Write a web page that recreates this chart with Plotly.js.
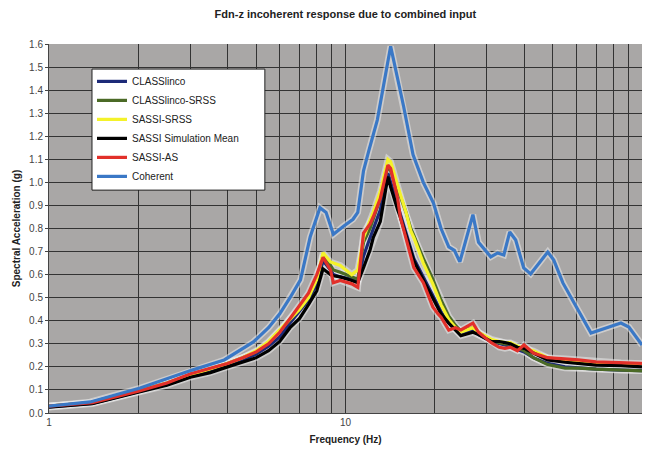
<!DOCTYPE html>
<html>
<head>
<meta charset="utf-8">
<script src="https://cdn.plot.ly/plotly-3.0.1.min.js"></script>
<style>
html,body{margin:0;padding:0;background:#fff;}
#chart{width:648px;height:456px;}
</style>
</head>
<body>
<div id="chart"></div>
<script>
// Frequencies (Hz) for the incoherent curves
var freq = [1, 1.4, 2, 2.5, 3, 3.5, 4, 4.5, 5, 5.5, 6, 6.5, 7, 7.5, 8, 8.4, 8.9, 9.1, 9.6, 10.5, 11, 11.5, 12.1, 12.4, 13.1, 13.9, 14.2, 15, 15.3, 16, 16.6, 17, 18.3, 19.7, 20.5, 21, 22.3, 23.5, 24.5, 26.9, 28.1, 31, 33, 34.5, 36, 38, 40, 43, 48, 55, 61, 70, 85, 100];

var classlinco = [0.026, 0.042, 0.092, 0.125, 0.16, 0.185, 0.21, 0.23, 0.255, 0.29, 0.33, 0.39, 0.44, 0.49, 0.56, 0.66, 0.62, 0.6, 0.59, 0.58, 0.57, 0.68, 0.76, 0.8, 0.88, 1.04, 1.0, 0.9, 0.86, 0.78, 0.71, 0.67, 0.59, 0.51, 0.47, 0.44, 0.39, 0.36, 0.34, 0.36, 0.34, 0.31, 0.3, 0.295, 0.29, 0.275, 0.265, 0.24, 0.215, 0.2, 0.196, 0.19, 0.186, 0.184];
var classlincoSRSS = [0.03, 0.045, 0.095, 0.13, 0.165, 0.19, 0.215, 0.24, 0.265, 0.305, 0.355, 0.405, 0.45, 0.5, 0.58, 0.685, 0.64, 0.62, 0.61, 0.59, 0.58, 0.74, 0.8, 0.84, 0.93, 1.07, 1.05, 0.96, 0.94, 0.87, 0.8, 0.77, 0.67, 0.58, 0.52, 0.49, 0.42, 0.38, 0.355, 0.37, 0.35, 0.315, 0.305, 0.3, 0.3, 0.285, 0.27, 0.24, 0.21, 0.195, 0.195, 0.19, 0.185, 0.183];
var sassiSRSS = [0.03, 0.045, 0.095, 0.13, 0.165, 0.19, 0.215, 0.24, 0.27, 0.31, 0.36, 0.41, 0.45, 0.5, 0.58, 0.695, 0.655, 0.65, 0.64, 0.6, 0.62, 0.76, 0.83, 0.87, 0.96, 1.1, 1.09, 0.98, 0.95, 0.87, 0.79, 0.76, 0.65, 0.56, 0.5, 0.47, 0.405, 0.37, 0.35, 0.37, 0.35, 0.32, 0.31, 0.305, 0.305, 0.29, 0.28, 0.27, 0.24, 0.225, 0.22, 0.215, 0.213, 0.213];
var sassiMean = [0.025, 0.04, 0.09, 0.12, 0.155, 0.175, 0.2, 0.22, 0.24, 0.27, 0.31, 0.37, 0.41, 0.47, 0.53, 0.625, 0.6, 0.595, 0.59, 0.575, 0.565, 0.63, 0.707, 0.76, 0.83, 1.025, 0.98, 0.88, 0.85, 0.77, 0.7, 0.66, 0.577, 0.5, 0.455, 0.43, 0.39, 0.36, 0.335, 0.35, 0.34, 0.31, 0.31, 0.305, 0.3, 0.285, 0.28, 0.26, 0.23, 0.22, 0.215, 0.208, 0.205, 0.2];
var sassiAS = [0.03, 0.045, 0.095, 0.13, 0.17, 0.195, 0.215, 0.24, 0.265, 0.3, 0.35, 0.41, 0.47, 0.52, 0.6, 0.675, 0.62, 0.565, 0.575, 0.56, 0.545, 0.78, 0.82, 0.85, 0.93, 1.075, 1.06, 0.93, 0.85, 0.76, 0.68, 0.63, 0.565, 0.46, 0.43, 0.415, 0.36, 0.37, 0.36, 0.39, 0.35, 0.305, 0.285, 0.28, 0.285, 0.27, 0.295, 0.26, 0.24, 0.235, 0.23, 0.222, 0.218, 0.215];

// Coherent curve has its own frequency sampling
var freqCoh = [1, 1.375, 2.03, 3.04, 3.9, 4.89, 5.5, 6.0, 6.5, 7.05, 7.6, 8.2, 8.6, 9.1, 9.85, 10.6, 11.0, 11.5, 12.0, 12.8, 14.2, 15.7, 16.9, 18.3, 19.8, 21.0, 22.3, 23.3, 24.3, 26.9, 28.1, 30.9, 32.6, 34.2, 35.8, 37.5, 39.9, 42.1, 48.1, 50.4, 54.1, 60.8, 67.3, 84.9, 90.3, 100];
var coherent = [0.03, 0.048, 0.108, 0.186, 0.23, 0.308, 0.37, 0.43, 0.5, 0.577, 0.763, 0.89, 0.87, 0.775, 0.81, 0.84, 0.87, 1.05, 1.14, 1.27, 1.59, 1.33, 1.12, 1.0, 0.91, 0.8, 0.72, 0.705, 0.655, 0.86, 0.74, 0.677, 0.694, 0.685, 0.785, 0.75, 0.629, 0.603, 0.698, 0.663, 0.564, 0.447, 0.347, 0.39, 0.373, 0.295];

var seriesNames = ["CLASSlinco", "CLASSlinco-SRSS", "SASSI-SRSS", "SASSI Simulation Mean", "SASSI-AS", "Coherent"];
var xTickVals = [1,2,3,4,5,6,7,8,9,10,20,30,40,50,60,70,80,90,100];
var xTickText = ["1","","","","","","","","","10","","","","","","","","","100"];
var yTickVals = [0,0.1,0.2,0.3,0.4,0.5,0.6,0.7,0.8,0.9,1.0,1.1,1.2,1.3,1.4,1.5,1.6];

var colors = ["#1d2a78", "#4b6a26", "#f4f22a", "#000000", "#e2302a", "#3a78c6"];
var xs = [freq, freq, freq, freq, freq, freqCoh];
var ys = [classlinco, classlincoSRSS, sassiSRSS, sassiMean, sassiAS, coherent];

var traces = [];
// soft light halo under the lines (scan look)
for (var j = 0; j < ys.length; j++) {
  traces.push({
    x: xs[j], y: ys[j], type: 'scatter', mode: 'lines',
    showlegend: false, hoverinfo: 'skip',
    line: {color: 'rgba(235,235,235,0.55)', width: 6.5}
  });
}
for (var i = 0; i < ys.length; i++) {
  traces.push({
    x: xs[i], y: ys[i], type: 'scatter', mode: 'lines',
    name: seriesNames[i],
    line: {color: colors[i], width: 3.2}
  });
}

var layout = {
  width: 648, height: 456,
  margin: {l: 49, r: 6, t: 44, b: 43},
  paper_bgcolor: '#ffffff',
  plot_bgcolor: '#a9a7a6',
  font: {family: 'Liberation Sans, Arial, sans-serif', size: 10, color: '#333'},
  title: {text: '<b>Fdn-z incoherent response due to combined input</b>', x: 0.533, xanchor: 'center', y: 0.97, yanchor: 'middle', font: {size: 11, color: '#222'}},
  showlegend: true,
  legend: {x: 0.0725, y: 0.938, xanchor: 'left', yanchor: 'top', bgcolor: 'rgba(0,0,0,0)', borderwidth: 0, font: {size: 10, color: '#222'}, tracegroupgap: 0},
  shapes: [{
    type: 'rect', xref: 'paper', yref: 'paper', layer: 'above',
    x0: 0.0725, x1: 0.364, y0: 0.604, y1: 0.932,
    fillcolor: '#ffffff', line: {color: '#222', width: 1}
  }],
  xaxis: {
    type: 'log', range: [0, 2], tickmode: 'array', tickvals: xTickVals, ticktext: xTickText,
    showgrid: true, gridcolor: '#333', gridwidth: 1, zeroline: false,
    showline: true, linecolor: '#444', linewidth: 1, mirror: false,
    ticks: '', tickfont: {size: 10, color: '#444'},
    title: {text: '<b>Frequency (Hz)</b>', font: {size: 10, color: '#222'}, standoff: 8}
  },
  yaxis: {
    range: [0, 1.6], tickmode: 'array', tickvals: yTickVals, tickformat: '.1f',
    showgrid: true, gridcolor: '#333', gridwidth: 1, zeroline: false,
    showline: true, linecolor: '#444', linewidth: 1,
    ticks: 'outside', ticklen: 3, tickcolor: '#444', tickfont: {size: 10, color: '#444'},
    title: {text: '<b>Spectral Acceleration (g)</b>', font: {size: 10, color: '#222'}, standoff: 6}
  }
};

Plotly.newPlot('chart', traces, layout, {displayModeBar: false, staticPlot: true});
</script>
</body>
</html>
